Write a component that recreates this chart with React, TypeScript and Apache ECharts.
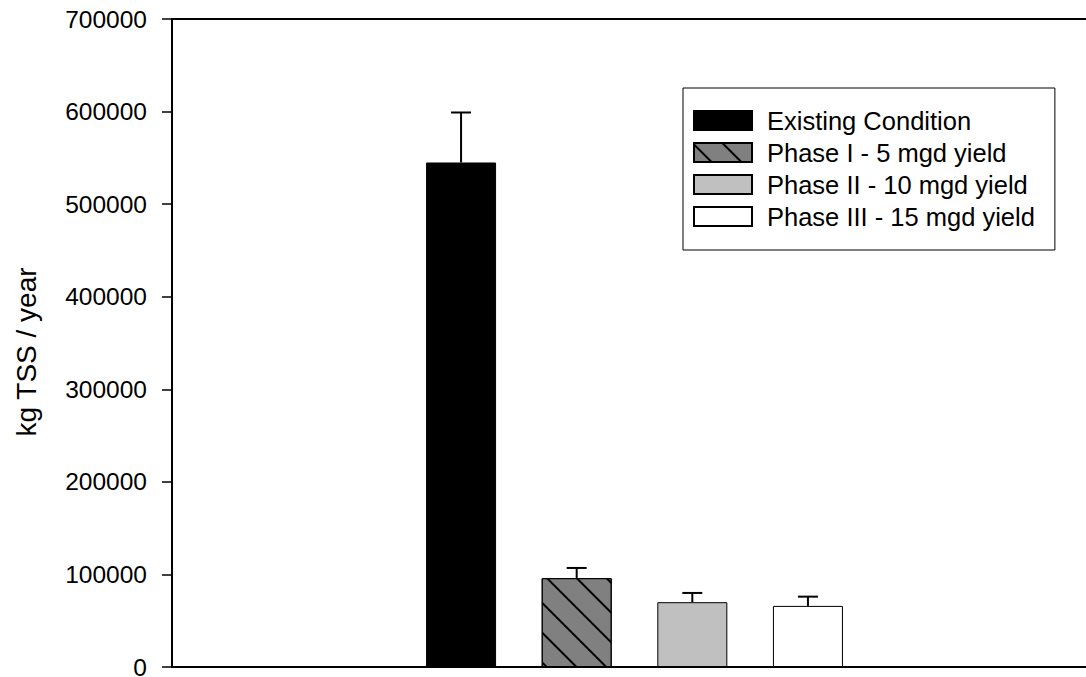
import React, { useEffect, useRef } from "react";
import * as echarts from "echarts";

const categories = ["c0", "c1", "Existing", "Phase I", "Phase II", "Phase III", "c6", "c7"];
const seriesNames = [
  "Existing Condition",
  "Phase I - 5 mgd yield",
  "Phase II - 10 mgd yield",
  "Phase III - 15 mgd yield",
];
const seriesCategoryIndex = [2, 3, 4, 5];
const seriesValues = [545000, 96000, 70000, 66000];
const errorTops = [599000, 107000, 80000, 76000];
const yTicks = [0, 100000, 200000, 300000, 400000, 500000, 600000, 700000];
const yTitle = "kg TSS / year";

const FONT = "'Liberation Sans', Arial, Helvetica, sans-serif";

export default function App() {
  const ref = useRef<HTMLDivElement>(null);

  useEffect(() => {
    if (!ref.current) return;
    const chart = echarts.init(ref.current, undefined, { renderer: "svg" });

    const fills = ["#000000", "#808080", "#c0c0c0", "#ffffff"];

    const barSeries: any[] = seriesNames.map((name, i) => ({
      name,
      type: "bar",
      barWidth: 70,
      barGap: "-100%",
      data: [[seriesCategoryIndex[i], seriesValues[i]]],
      itemStyle: {
        color: fills[i],
        borderColor: "#000",
        borderWidth: 1,
        decal:
          i === 1
            ? {
                symbol: "rect",
                symbolSize: 1,
                color: "#000",
                dashArrayX: [1, 0],
                dashArrayY: [1.5, 19],
                rotation: Math.PI / 4,
              }
            : "none",
      },
      z: 2,
    }));

    const errData = seriesCategoryIndex.map((c, i) => [c, seriesValues[i], errorTops[i]]);

    const option: any = {
      animation: false,
      aria: { enabled: false },
      textStyle: { fontFamily: FONT },
      grid: {
        left: 172,
        top: 19,
        width: 925,
        bottom: 10,
        outerBoundsMode: "none",
        containLabel: false,
        show: true,
        borderColor: "#000",
        borderWidth: 2,
        backgroundColor: "transparent",
      },
      legend: {
        data: seriesNames,
        orient: "vertical",
        left: 683,
        top: 88,
        padding: [19.5, 20, 20.5, 10],
        itemWidth: 58,
        itemHeight: 19,
        itemGap: 6,
        icon: "rect",
        borderColor: "#000",
        borderWidth: 1,
        backgroundColor: "#fff",
        selectedMode: false,
        textStyle: {
          fontFamily: FONT,
          fontSize: 25.5,
          color: "#000",
          padding: [0, 0, 0, 10],
        },
      },
      xAxis: {
        type: "category",
        data: categories,
        boundaryGap: true,
        axisLine: { show: true, lineStyle: { color: "#000", width: 2 } },
        axisTick: { show: false },
        axisLabel: { show: false },
        splitLine: { show: false },
      },
      yAxis: {
        type: "value",
        min: yTicks[0],
        max: yTicks[yTicks.length - 1],
        interval: yTicks[1] - yTicks[0],
        name: yTitle,
        nameLocation: "middle",
        nameGap: 132,
        nameTextStyle: {
          fontFamily: FONT,
          fontSize: 28,
          color: "#000",
          padding: [0, 18, 0, 0],
        },
        axisLine: { show: true, lineStyle: { color: "#000", width: 2 } },
        axisTick: { show: true, inside: false, length: 10, lineStyle: { color: "#000", width: 1.5 } },
        axisLabel: {
          margin: 25,
          fontFamily: FONT,
          fontSize: 24.5,
          color: "#000",
          formatter: (v: number) => String(v),
        },
        splitLine: { show: false },
      },
      series: [
        ...barSeries,
        {
          name: "error",
          type: "custom",
          data: errData,
          z: 3,
          renderItem: (params: any, api: any) => {
            const base = api.coord([api.value(0), api.value(1)]);
            const top = api.coord([api.value(0), api.value(2)]);
            const half = 10;
            return {
              type: "group",
              children: [
                {
                  type: "line",
                  shape: { x1: base[0], y1: base[1], x2: top[0], y2: top[1] },
                  style: { stroke: "#000", lineWidth: 2 },
                },
                {
                  type: "line",
                  shape: { x1: top[0] - half, y1: top[1], x2: top[0] + half, y2: top[1] },
                  style: { stroke: "#000", lineWidth: 2 },
                },
              ],
            };
          },
        },
      ],
    };

    chart.setOption(option);
    return () => chart.dispose();
  }, []);

  return (
    <div
      ref={ref}
      style={{ position: "fixed", left: 0, top: 0, width: 1086, height: 677, background: "#fff" }}
    />
  );
}
